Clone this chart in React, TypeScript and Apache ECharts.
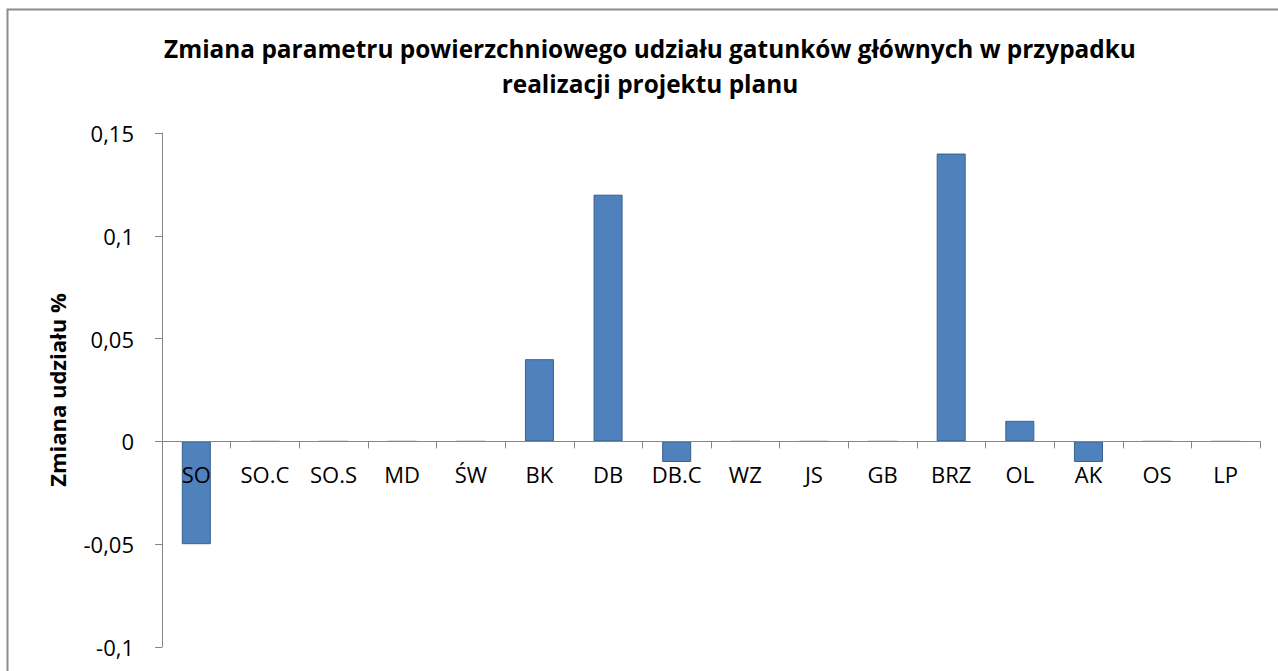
import React, { useEffect, useRef } from "react";
import * as echarts from "echarts";

const categories = ["SO", "SO.C", "SO.S", "MD", "ŚW", "BK", "DB", "DB.C", "WZ", "JS", "GB", "BRZ", "OL", "AK", "OS", "LP"];
const values = [-0.05, 0, 0, 0, 0, 0.04, 0.12, -0.01, 0, 0, 0, 0.14, 0.01, -0.01, 0, 0];
const titleLines = [
  "Zmiana parametru powierzchniowego udziału gatunków głównych w przypadku",
  "realizacji projektu planu",
];
const yAxisName = "Zmiana udziału %";
const yMin = -0.1;
const yMax = 0.15;
const yInterval = 0.05;

const FONT = "'Open Sans', sans-serif";
const W = 1278;
const H = 671;
const GRID = { left: 162, right: 18, top: 133, bottom: 24 };

export default function App() {
  const ref = useRef<HTMLDivElement>(null);
  useEffect(() => {
    if (!ref.current) return;
    const chart = echarts.init(ref.current, null, { renderer: "svg" });
    const gridH = H - GRID.top - GRID.bottom;
    // move the category axis (line, ticks, labels) up to the value-axis zero
    const zeroOffset = -((0 - yMin) / (yMax - yMin)) * gridH;
    chart.setOption({
      animation: false,
      backgroundColor: "#fff",
      textStyle: { fontFamily: FONT },
      graphic: [
        {
          type: "rect",
          shape: { x: 7.5, y: 9.5, width: 1300, height: 700 },
          style: { fill: "none", stroke: "#8c8c8c", lineWidth: 2 },
          silent: true,
        },
        {
          type: "text",
          style: {
            x: 650,
            y: 66,
            text: titleLines.join("\n"),
            align: "center",
            verticalAlign: "middle",
            font: `bold 24.4px ${FONT}`,
            lineHeight: 35,
            fill: "#000",
          },
        },
      ],
      grid: { ...GRID, containLabel: false, outerBoundsMode: "none" },
      xAxis: {
        type: "category",
        data: categories,
        offset: zeroOffset,
        axisLine: { onZero: false, lineStyle: { color: "#868686", width: 1 } },
        axisTick: { show: true, length: 7, lineStyle: { color: "#868686" } },
        axisLabel: { color: "#000", fontSize: 22, margin: 22, fontFamily: FONT, interval: 0 },
        z: 10,
      },
      yAxis: {
        type: "value",
        min: yMin,
        max: yMax,
        interval: yInterval,
        name: yAxisName,
        nameLocation: "middle",
        nameRotate: 90,
        nameGap: 94,
        nameTextStyle: { color: "#000", fontSize: 22, fontWeight: "bold", fontFamily: FONT },
        axisLine: { show: true, lineStyle: { color: "#868686", width: 1 } },
        axisTick: { show: true, length: 7, lineStyle: { color: "#868686" } },
        splitLine: { show: false },
        axisLabel: {
          color: "#000",
          fontSize: 22,
          margin: 28,
          fontFamily: FONT,
          formatter: (v: number) => String(Math.round(v * 100) / 100).replace(".", ","),
        },
      },
      series: [
        {
          type: "bar",
          data: values,
          barWidth: 29,
          itemStyle: { color: "#4F81BD", borderColor: "#3A5F8C", borderWidth: 1 },
        },
      ],
    });
    return () => chart.dispose();
  }, []);
  return (
    <div
      ref={ref}
      style={{ position: "absolute", left: 0, top: 0, width: W, height: H }}
    />
  );
}
